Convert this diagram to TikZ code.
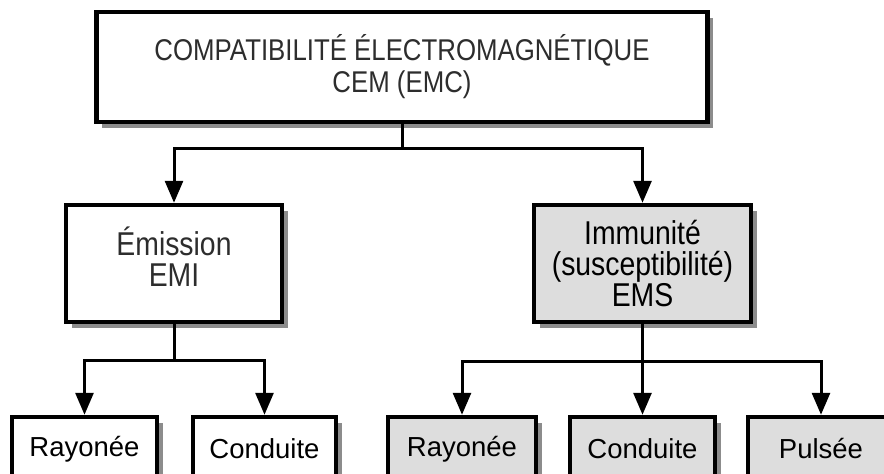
\documentclass[tikz,border=0pt]{standalone}
\usepackage{fontspec}
\setmainfont{Liberation Sans}
\newfontfamily\narrowfont[FakeStretch=0.86]{Liberation Sans}
\usetikzlibrary{arrows.meta,shadows}
\definecolor{boxgray}{RGB}{221,221,221}
\definecolor{txtgray}{RGB}{45,45,45}
\begin{document}
\begin{tikzpicture}[x=1pt,y=-1pt,
  box/.style={draw=black, line width=4.5pt, rectangle, inner sep=0pt, align=center,
    font=\fontsize{27.5}{31}\selectfont,
    drop shadow={shadow xshift=5.5pt, shadow yshift=-5.5pt, fill=black!45, opacity=1}},
  wbox/.style={box, fill=white},
  gbox/.style={box, fill=boxgray},
  toptext/.style={font=\narrowfont\fontsize{30}{32}\selectfont},
  midtext/.style={font=\narrowfont\fontsize{33}{31}\selectfont},
  conn/.style={line width=3pt},
  arr/.style={conn, -{Triangle[length=22pt,width=18pt]}}
]
\path[use as bounding box] (0,0) rectangle (884,474);
\clip (0,0) rectangle (884,474);

\node[wbox, toptext, minimum width=611pt, minimum height=110pt, text=txtgray] (cem) at (402,67)
  {COMPATIBILITÉ ÉLECTROMAGNÉTIQUE\\CEM (EMC)};
\node[wbox, midtext, minimum width=216pt, minimum height=117pt, text=txtgray] (emi) at (174,263.5)
  {Émission\\EMI\rule[-13pt]{0pt}{1pt}};
\node[gbox, midtext, minimum width=217pt, minimum height=117pt] (ems) at (642.5,263.5)
  {Immunité\\(susceptibilité)\\EMS};

\node[wbox, minimum width=145pt, minimum height=64pt] (er) at (84.5,449) {Rayonée};
\node[wbox, minimum width=143pt, minimum height=64pt] (ec) at (264.5,449) {Conduite};
\node[gbox, minimum width=148pt, minimum height=64pt] (sr) at (462,449) {Rayonée};
\node[gbox, minimum width=145pt, minimum height=64pt] (sc) at (642.5,449) {Conduite};
\node[gbox, minimum width=146pt, minimum height=64pt] (sp) at (821,449) {Pulsée};

\draw[conn] (cem.south) -- ++(0,24) coordinate (j1);
\draw[arr] (j1) -| (emi.north);
\draw[arr] (j1) -| (ems.north);

\draw[conn] (emi.south) -- ++(0,36) coordinate (j2);
\draw[arr] (j2) -| (er.north);
\draw[arr] (j2) -| (ec.north);

\draw[conn] (ems.south) -- ++(0,37) coordinate (j3);
\draw[arr] (j3) -| (sr.north);
\draw[arr] (j3) -- (sc.north);
\draw[arr] (j3) -| (sp.north);
\end{tikzpicture}
\end{document}
